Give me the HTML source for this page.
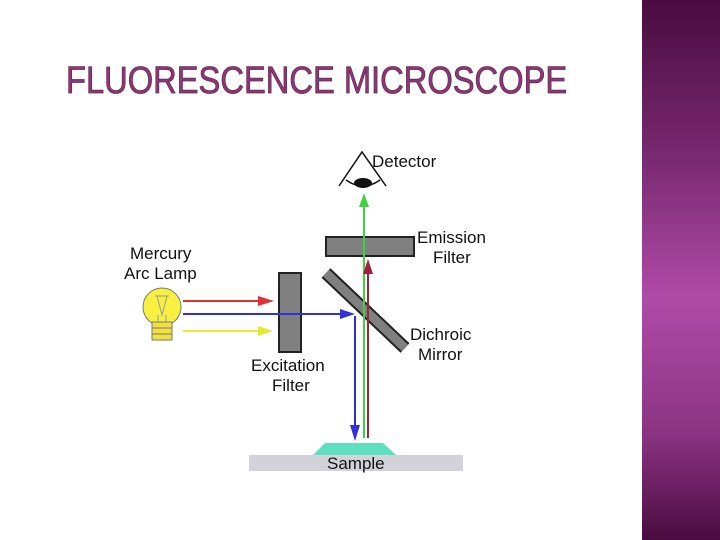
<!DOCTYPE html>
<html><head><style>
body{margin:0;width:720px;height:540px;background:#fff;position:relative;overflow:hidden;font-family:"Liberation Sans",sans-serif}
#side{position:absolute;left:642px;top:0;width:78px;height:540px;background:linear-gradient(#4a0c40 0%,#7a2a72 30%,#b04aa8 55%,#8c3484 80%,#4a0c40 100%)}
#t{position:absolute;left:66px;top:60px;font-size:38px;color:#8a3a72;-webkit-text-stroke:0.8px #6a2458;white-space:nowrap;transform:scaleX(0.86);transform-origin:0 0}
</style></head><body>
<div id="side"></div>
<div id="t">FLUORESCENCE MICROSCOPE</div>
<svg width="720" height="540" style="position:absolute;left:0;top:0" font-family="Liberation Sans, sans-serif" font-size="17">
<rect x="249" y="455" width="214" height="16" fill="#d2d2d8"/>
<path d="M313,455L325,443L383,443L396,455z" fill="#5ee0c0"/>
<text x="327" y="469" fill="#111">Sample</text>
<line x1="326" y1="273" x2="405" y2="348" stroke="#222" stroke-width="13"/>
<line x1="326" y1="273" x2="405" y2="348" stroke="#808080" stroke-width="9"/>
<rect x="326" y="237" width="88" height="19" fill="#808080" stroke="#222" stroke-width="2"/>
<rect x="279" y="273" width="22" height="79" fill="#808080" stroke="#222" stroke-width="2"/>
<line x1="183" y1="301" x2="262" y2="301" stroke="#e03030" stroke-width="2"/>
<path d="M258,296L274,301L258,306z" fill="#e03030"/>
<line x1="183" y1="331" x2="262" y2="331" stroke="#e8e830" stroke-width="2"/>
<path d="M258,326L273,331L258,336z" fill="#e8e830"/>
<line x1="183" y1="314" x2="345" y2="314" stroke="#3030e0" stroke-width="2"/>
<path d="M340,309L355,314L340,319z" fill="#3030e0"/>
<line x1="355" y1="316" x2="355" y2="428" stroke="#3030e0" stroke-width="2"/>
<path d="M350,425L355,441L360,425z" fill="#3030e0"/>
<line x1="364" y1="438" x2="364" y2="205" stroke="#40d040" stroke-width="2"/>
<path d="M359,207L364,193L369,207z" fill="#40d040"/>
<line x1="368" y1="438" x2="368" y2="272" stroke="#a02040" stroke-width="2"/>
<path d="M363,274L368,259L373,274z" fill="#a02040"/>
<path d="M339,186L362,152L386,186" fill="none" stroke="#111" stroke-width="1.5"/>
<path d="M346,180Q363,192 380,180" fill="none" stroke="#111" stroke-width="1.5"/>
<ellipse cx="363" cy="183" rx="9" ry="5" fill="#111"/>
<text x="372" y="167" fill="#111">Detector</text>
<circle cx="162" cy="307" r="19" fill="#f8f040" stroke="#777" stroke-width="1"/>
<rect x="152" y="322" width="20" height="18" fill="#f0e040" stroke="#777"/>
<line x1="152" y1="328" x2="172" y2="328" stroke="#777"/><line x1="152" y1="334" x2="172" y2="334" stroke="#777"/>
<path d="M155,296L169,296M157,296L162,315L167,296M158,315L158,322M166,315L166,322" stroke="#999" fill="none"/>
<text x="130" y="259" fill="#111">Mercury</text>
<text x="124" y="279" fill="#111">Arc Lamp</text>
<text x="417" y="243" fill="#111">Emission</text>
<text x="433" y="263" fill="#111">Filter</text>
<text x="410" y="340" fill="#111">Dichroic</text>
<text x="418" y="360" fill="#111">Mirror</text>
<text x="251" y="371" fill="#111">Excitation</text>
<text x="272" y="391" fill="#111">Filter</text>
</svg>
</body></html>
